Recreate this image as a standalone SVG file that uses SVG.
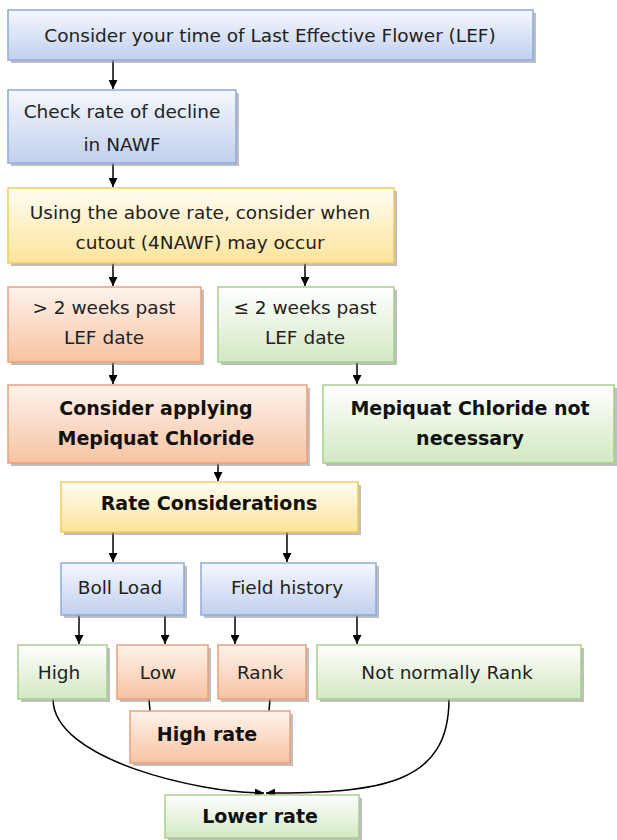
<svg xmlns="http://www.w3.org/2000/svg" width="617" height="840" viewBox="0 0 617 840">
<style>
text{font-family:"DejaVu Sans","Liberation Sans",sans-serif;font-size:18.5px;fill:#222;text-anchor:middle}
text.b{font-weight:bold;font-size:19px;fill:#111}
.sh{fill:#8a8a8a;opacity:.55}
.blue{fill:url(#gBlue);stroke:#8eaadb;stroke-width:1.5}
.yel{fill:url(#gYel);stroke:#f5cc55;stroke-width:1.5}
.org{fill:url(#gOrg);stroke:#eba07a;stroke-width:1.5}
.grn{fill:url(#gGrn);stroke:#a6cf8c;stroke-width:1.5}
.ln{stroke:#000;stroke-width:1.5;fill:none}
.ar{marker-end:url(#ah)}
</style>
<defs>
<linearGradient id="gBlue" x1="0" y1="0" x2="0" y2="1"><stop offset="0" stop-color="#f4f7fd"/><stop offset="1" stop-color="#c2d0ee"/></linearGradient>
<linearGradient id="gYel" x1="0" y1="0" x2="0" y2="1"><stop offset="0" stop-color="#fffdf3"/><stop offset="1" stop-color="#fde49a"/></linearGradient>
<linearGradient id="gOrg" x1="0" y1="0" x2="0" y2="1"><stop offset="0" stop-color="#fef3ec"/><stop offset="1" stop-color="#f7c3a2"/></linearGradient>
<linearGradient id="gGrn" x1="0" y1="0" x2="0" y2="1"><stop offset="0" stop-color="#ffffff"/><stop offset="1" stop-color="#d3e8c2"/></linearGradient>
<marker id="ah" viewBox="0 0 10 10" refX="10" refY="5" markerWidth="6" markerHeight="6" orient="auto" markerUnits="strokeWidth"><path d="M0,0 L10,5 L0,10 z" fill="#000"/></marker>
</defs>

<g id="connectors">
<line class="ln ar" x1="113" y1="60" x2="113" y2="89"/>
<line class="ln ar" x1="113" y1="163" x2="113" y2="187"/>
<line class="ln ar" x1="113" y1="263" x2="113" y2="286"/>
<line class="ln ar" x1="305" y1="263" x2="305" y2="286"/>
<line class="ln ar" x1="113" y1="362" x2="113" y2="384"/>
<line class="ln ar" x1="357" y1="362" x2="357" y2="384"/>
<line class="ln ar" x1="218" y1="463" x2="218" y2="481"/>
<line class="ln ar" x1="113" y1="532" x2="113" y2="562"/>
<line class="ln ar" x1="287" y1="532" x2="287" y2="562"/>
<line class="ln ar" x1="79" y1="615" x2="79" y2="644"/>
<line class="ln ar" x1="165" y1="615" x2="165" y2="644"/>
<line class="ln ar" x1="235" y1="615" x2="235" y2="644"/>
<line class="ln ar" x1="357" y1="615" x2="357" y2="644"/>
<line class="ln" x1="149" y1="699" x2="150" y2="711"/>
<line class="ln" x1="270" y1="699" x2="269" y2="711"/>
<path class="ln ar" d="M53,699 C53,760 200,793 264,793"/>
<path class="ln ar" d="M449,699 C449,785 380,793 266,793"/>
</g>

<g id="n1"><rect class="sh" x="11" y="13" width="525" height="50"/><rect class="blue" x="8" y="10" width="525" height="50"/><text x="270" y="42">Consider your time of Last Effective Flower (LEF)</text></g>
<g id="n2"><rect class="sh" x="11" y="93" width="228" height="73"/><rect class="blue" x="8" y="90" width="228" height="73"/><text x="122" y="118">Check rate of decline</text><text x="122" y="151">in NAWF</text></g>
<g id="n3"><rect class="sh" x="11" y="191" width="386" height="75"/><rect class="yel" x="8" y="188" width="386" height="75"/><text x="200" y="219">Using the above rate, consider when</text><text x="200" y="249">cutout (4NAWF) may occur</text></g>
<g id="n4"><rect class="sh" x="11" y="290" width="193" height="75"/><rect class="org" x="8" y="287" width="193" height="75"/><text x="104" y="314">&gt; 2 weeks past</text><text x="104" y="344">LEF date</text></g>
<g id="n5"><rect class="sh" x="221" y="290" width="176" height="75"/><rect class="grn" x="218" y="287" width="176" height="75"/><text x="305" y="314">≤ 2 weeks past</text><text x="305" y="344">LEF date</text></g>
<g id="n6"><rect class="sh" x="11" y="388" width="299" height="78"/><rect class="org" x="8" y="385" width="299" height="78"/><text class="b" x="156" y="415">Consider applying</text><text class="b" x="156" y="445">Mepiquat Chloride</text></g>
<g id="n7"><rect class="sh" x="326" y="388" width="291" height="78"/><rect class="grn" x="323" y="385" width="291" height="78"/><text class="b" x="470" y="415">Mepiquat Chloride not</text><text class="b" x="470" y="445">necessary</text></g>
<g id="n8"><rect class="sh" x="64" y="485" width="297" height="50"/><rect class="yel" x="61" y="482" width="297" height="50"/><text class="b" x="209" y="510">Rate Considerations</text></g>
<g id="n9"><rect class="sh" x="64" y="566" width="123" height="52"/><rect class="blue" x="61" y="563" width="123" height="52"/><text x="120" y="594">Boll Load</text></g>
<g id="n10"><rect class="sh" x="204" y="566" width="175" height="52"/><rect class="blue" x="201" y="563" width="175" height="52"/><text x="287" y="594">Field history</text></g>
<g id="n11"><rect class="sh" x="21" y="648" width="89" height="54"/><rect class="grn" x="18" y="645" width="89" height="54"/><text x="59" y="679">High</text></g>
<g id="n12"><rect class="sh" x="120" y="648" width="91" height="54"/><rect class="org" x="117" y="645" width="91" height="54"/><text x="158" y="679">Low</text></g>
<g id="n13"><rect class="sh" x="221" y="648" width="88" height="54"/><rect class="org" x="218" y="645" width="88" height="54"/><text x="260" y="679">Rank</text></g>
<g id="n14"><rect class="sh" x="320" y="648" width="264" height="54"/><rect class="grn" x="317" y="645" width="264" height="54"/><text x="447" y="679">Not normally Rank</text></g>
<g id="n15"><rect class="sh" x="133" y="714" width="160" height="52"/><rect class="org" x="130" y="711" width="160" height="52"/><text class="b" x="207" y="741">High rate</text></g>
<g id="n16"><rect class="sh" x="168" y="798" width="194" height="43"/><rect class="grn" x="165" y="795" width="194" height="43"/><text class="b" x="260" y="823">Lower rate</text></g>
</svg>
